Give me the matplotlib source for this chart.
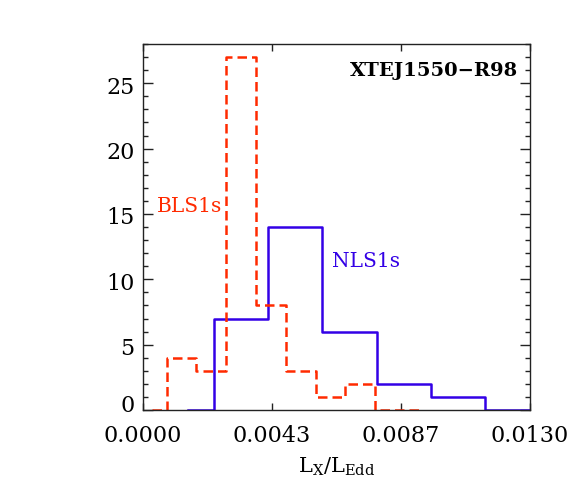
import numpy as np
import matplotlib
matplotlib.use("Agg")
import matplotlib.pyplot as plt
import matplotlib.transforms as mtransforms
from matplotlib.ticker import MultipleLocator, FixedLocator

# histogram bin centres and counts
nls_x = [0.00151, 0.00329, 0.00511, 0.00694, 0.00876, 0.01059, 0.01241, 0.01424]
nls_n = [0, 7, 14, 6, 2, 1, 0, 0]

bls_x = [0.00031, 0.00128, 0.00228, 0.00328, 0.00429, 0.00530, 0.00630, 0.00730, 0.00830, 0.00928]
bls_n = [0, 4, 3, 27, 8, 3, 1, 2, 0, 0]

xticks = [0.0, 0.013/3, 2*0.013/3, 0.013]
xticklabels = ["0.0000", "0.0043", "0.0087", "0.0130"]
yticks = [0, 5, 10, 15, 20, 25]

plt.rcParams['font.family'] = 'DejaVu Serif'
plt.rcParams['mathtext.fontset'] = 'dejavuserif'

red = '#ff2a00'
blue = '#3300e6'

fig = plt.figure(figsize=(5.73, 5.01), dpi=100)
ax = fig.add_axes([0.2496, 0.1816, 0.6754, 0.7305])

ax.step(nls_x, nls_n, where='mid', color=blue, lw=1.8)
l, = ax.step(bls_x, bls_n, where='mid', color=red, lw=1.8, linestyle='--')
l.set_dashes((3.8, 2.0))

ax.set_xlim(0, 0.013)
ax.set_ylim(0, 28)
ax.xaxis.set_major_locator(FixedLocator(xticks))
ax.set_xticklabels(xticklabels)
ax.set_yticks(yticks)
ax.yaxis.set_minor_locator(MultipleLocator(1))

ax.tick_params(axis='both', which='both', direction='in', top=True, right=True,
               labelsize=16, width=1, color='#222222')
ax.tick_params(axis='y', which='major', length=7, pad=6)
ax.tick_params(axis='y', which='minor', length=3.5)
ax.tick_params(axis='x', which='major', length=5, pad=11)
for s in ax.spines.values():
    s.set_linewidth(1)
    s.set_color('#222222')

# IDL-like label placement: labels sit a little below their ticks, "0" is lifted
fig.canvas.draw()
for i, lab in enumerate(ax.get_yticklabels()):
    dy = 7 if i == 0 else -2
    lab.set_transform(lab.get_transform() + mtransforms.ScaledTranslation(0, dy / 100, fig.dpi_scale_trans))

ax.set_xlabel(r'L$_{\rm X}$/L$_{\rm Edd}$', fontsize=15, labelpad=6)

ax.text(0.97, 0.925, 'XTEJ1550\u2212R98', transform=ax.transAxes, ha='right', va='center',
        fontsize=14, fontweight='bold')
ax.text(0.037, 0.555, 'BLS1s', transform=ax.transAxes, ha='left', va='center',
        fontsize=14.5, color=red)
ax.text(0.488, 0.405, 'NLS1s', transform=ax.transAxes, ha='left', va='center',
        fontsize=14.5, color=blue)

fig.savefig('out.png', dpi=100)
